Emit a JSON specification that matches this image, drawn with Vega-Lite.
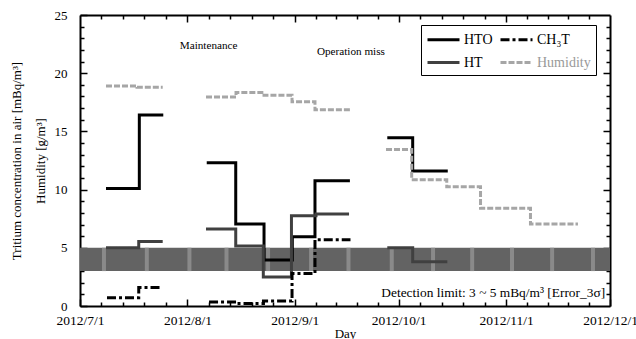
{
  "$schema": "https://vega.github.io/schema/vega-lite/v6.json",
  "width": 530,
  "height": 291,
  "autosize": {"type": "none"},
  "padding": {"left": 80, "top": 15, "right": 26, "bottom": 33},
  "config": {
    "view": {"stroke": null},
    "font": "Liberation Serif",
    "legend": {"labelFont": "Liberation Serif"},
    "axis": {"domainColor": "black", "domainWidth": 2, "tickColor": "black", "tickWidth": 1.5, "grid": false, "labelFont": "Liberation Serif", "labelColor": "black", "titleFont": "Liberation Serif", "titleColor": "black", "titleFontWeight": "normal"}
  },
  "resolve": {"axis": {"x": "independent", "y": "independent"}},
  "layer": [
    {
      "data": {"values": [{"start": "2012-07-01T00:00:00", "end": "2012-12-01T00:00:00", "low": 3, "high": 5}]},
      "mark": {"type": "rect", "fill": "#636363"},
      "encoding": {
        "x": {"field": "start", "type": "temporal",
          "scale": {"domain": [{"year": 2012, "month": 7, "date": 1}, {"year": 2012, "month": 12, "date": 1}]},
          "axis": {"orient": "bottom", "values": [{"year": 2012, "month": 7, "date": 1}, {"year": 2012, "month": 8, "date": 1}, {"year": 2012, "month": 9, "date": 1}, {"year": 2012, "month": 10, "date": 1}, {"year": 2012, "month": 11, "date": 1}, {"year": 2012, "month": 12, "date": 1}],
            "format": "%Y/%-m/%-d", "labelFontSize": 13.5, "tickSize": -7, "labelPadding": 14, "labelFlush": false, "labelOverlap": false, "labelBound": false,
            "title": "Day", "titleFontSize": 13, "titlePadding": 1}},
        "x2": {"field": "end"},
        "y": {"field": "low", "type": "quantitative", "scale": {"domain": [0, 25], "nice": false, "zero": false},
          "axis": {"orient": "left", "values": [0, 5, 10, 15, 20, 25], "tickSize": -7, "labelFontSize": 13, "labelPadding": 20,
            "title": ["Tritium concentration in air [mBq/m³]", "Humidity [g/m³]"], "titleFontSize": 13, "titleLineHeight": 24, "titlePadding": 7}},
        "y2": {"field": "high"}
      }
    },
    {
      "data": {"values": [
        {"date": "2012-07-07T22:00:00", "low": 3, "high": 5},
        {"date": "2012-07-20T07:00:00", "low": 3, "high": 5},
        {"date": "2012-08-01T14:00:00", "low": 3, "high": 5},
        {"date": "2012-08-12T07:00:00", "low": 3, "high": 5},
        {"date": "2012-08-24T07:00:00", "low": 3, "high": 5},
        {"date": "2012-09-05T17:00:00", "low": 3, "high": 5},
        {"date": "2012-09-16T12:00:00", "low": 3, "high": 5},
        {"date": "2012-09-29T00:00:00", "low": 3, "high": 5},
        {"date": "2012-10-10T22:00:00", "low": 3, "high": 5},
        {"date": "2012-10-22T05:00:00", "low": 3, "high": 5},
        {"date": "2012-11-02T17:00:00", "low": 3, "high": 5},
        {"date": "2012-11-14T07:00:00", "low": 3, "high": 5},
        {"date": "2012-11-26T02:00:00", "low": 3, "high": 5}
      ]},
      "mark": {"type": "rule", "strokeWidth": 4, "color": "#8a8a8a"},
      "encoding": {
        "x": {"field": "date", "type": "temporal",
          "axis": {"orient": "bottom", "values": [
            {"year": 2012, "month": 7, "date": 7, "hours": 4, "minutes": 48}, {"year": 2012, "month": 7, "date": 13, "hours": 9, "minutes": 36}, {"year": 2012, "month": 7, "date": 19, "hours": 14, "minutes": 24}, {"year": 2012, "month": 7, "date": 25, "hours": 19, "minutes": 12},
            {"year": 2012, "month": 8, "date": 7, "hours": 4, "minutes": 48}, {"year": 2012, "month": 8, "date": 13, "hours": 9, "minutes": 36}, {"year": 2012, "month": 8, "date": 19, "hours": 14, "minutes": 24}, {"year": 2012, "month": 8, "date": 25, "hours": 19, "minutes": 12},
            {"year": 2012, "month": 9, "date": 7}, {"year": 2012, "month": 9, "date": 13}, {"year": 2012, "month": 9, "date": 19}, {"year": 2012, "month": 9, "date": 25},
            {"year": 2012, "month": 10, "date": 7, "hours": 4, "minutes": 48}, {"year": 2012, "month": 10, "date": 13, "hours": 9, "minutes": 36}, {"year": 2012, "month": 10, "date": 19, "hours": 14, "minutes": 24}, {"year": 2012, "month": 10, "date": 25, "hours": 19, "minutes": 12},
            {"year": 2012, "month": 11, "date": 7}, {"year": 2012, "month": 11, "date": 13}, {"year": 2012, "month": 11, "date": 19}, {"year": 2012, "month": 11, "date": 25}],
            "tickSize": -4, "labels": false, "domain": false, "title": null}},
        "y": {"field": "low", "type": "quantitative",
          "axis": {"orient": "left", "values": [1,2,3,4,6,7,8,9,11,12,13,14,16,17,18,19,21,22,23,24], "tickSize": -4, "labels": false, "domain": false, "title": null}},
        "y2": {"field": "high"}
      }
    },
    {
      "data": {"values": [
        {"series": "HTO", "seg": "HTO1", "date": "2012-07-08T12:00:00", "v": 10.1},
        {"series": "HTO", "seg": "HTO1", "date": "2012-07-18T03:00:00", "v": 16.4},
        {"series": "HTO", "seg": "HTO1", "date": "2012-07-25T01:00:00", "v": 16.4},
        {"series": "HTO", "seg": "HTO2", "date": "2012-08-06T14:00:00", "v": 12.3},
        {"series": "HTO", "seg": "HTO2", "date": "2012-08-14T23:00:00", "v": 7.05},
        {"series": "HTO", "seg": "HTO2", "date": "2012-08-23T03:00:00", "v": 3.95},
        {"series": "HTO", "seg": "HTO2", "date": "2012-08-31T07:00:00", "v": 5.95},
        {"series": "HTO", "seg": "HTO2", "date": "2012-09-06T20:00:00", "v": 10.75},
        {"series": "HTO", "seg": "HTO2", "date": "2012-09-16T22:00:00", "v": 10.75},
        {"series": "HTO", "seg": "HTO3", "date": "2012-09-27T17:00:00", "v": 14.45},
        {"series": "HTO", "seg": "HTO3", "date": "2012-10-05T01:00:00", "v": 11.6},
        {"series": "HTO", "seg": "HTO3", "date": "2012-10-15T04:00:00", "v": 11.6},
        {"series": "HT", "seg": "HT1", "date": "2012-07-08T12:00:00", "v": 5.0},
        {"series": "HT", "seg": "HT1", "date": "2012-07-17T23:00:00", "v": 5.55},
        {"series": "HT", "seg": "HT1", "date": "2012-07-24T21:00:00", "v": 5.55},
        {"series": "HT", "seg": "HT2", "date": "2012-08-06T09:00:00", "v": 6.62},
        {"series": "HT", "seg": "HT2", "date": "2012-08-14T23:00:00", "v": 5.15},
        {"series": "HT", "seg": "HT2", "date": "2012-08-22T22:00:00", "v": 2.5},
        {"series": "HT", "seg": "HT2", "date": "2012-08-31T01:00:00", "v": 7.75},
        {"series": "HT", "seg": "HT2", "date": "2012-09-07T03:00:00", "v": 7.9},
        {"series": "HT", "seg": "HT2", "date": "2012-09-16T16:00:00", "v": 7.9},
        {"series": "HT", "seg": "HT3", "date": "2012-09-27T17:00:00", "v": 5.0},
        {"series": "HT", "seg": "HT3", "date": "2012-10-05T01:00:00", "v": 3.8},
        {"series": "HT", "seg": "HT3", "date": "2012-10-15T01:00:00", "v": 3.8},
        {"series": "CH₃T", "seg": "C1", "date": "2012-07-08T19:00:00", "v": 0.7},
        {"series": "CH₃T", "seg": "C1", "date": "2012-07-17T23:00:00", "v": 1.6},
        {"series": "CH₃T", "seg": "C1", "date": "2012-07-24T14:00:00", "v": 1.6},
        {"series": "CH₃T", "seg": "C2", "date": "2012-08-07T06:00:00", "v": 0.35},
        {"series": "CH₃T", "seg": "C2", "date": "2012-08-15T04:00:00", "v": 0.22},
        {"series": "CH₃T", "seg": "C2", "date": "2012-08-22T23:00:00", "v": 0.43},
        {"series": "CH₃T", "seg": "C2", "date": "2012-08-31T05:00:00", "v": 2.8},
        {"series": "CH₃T", "seg": "C2", "date": "2012-09-06T20:00:00", "v": 5.7},
        {"series": "CH₃T", "seg": "C2", "date": "2012-09-17T02:00:00", "v": 5.7},
        {"series": "Humidity", "seg": "H1", "date": "2012-07-08T12:00:00", "v": 18.9},
        {"series": "Humidity", "seg": "H1", "date": "2012-07-17T11:00:00", "v": 18.8},
        {"series": "Humidity", "seg": "H1", "date": "2012-07-24T21:00:00", "v": 18.8},
        {"series": "Humidity", "seg": "H2", "date": "2012-08-06T09:00:00", "v": 17.95},
        {"series": "Humidity", "seg": "H2", "date": "2012-08-15T01:00:00", "v": 18.35},
        {"series": "Humidity", "seg": "H2", "date": "2012-08-23T03:00:00", "v": 18.1},
        {"series": "Humidity", "seg": "H2", "date": "2012-08-31T05:00:00", "v": 17.55},
        {"series": "Humidity", "seg": "H2", "date": "2012-09-06T20:00:00", "v": 16.85},
        {"series": "Humidity", "seg": "H2", "date": "2012-09-16T22:00:00", "v": 16.85},
        {"series": "Humidity", "seg": "H3", "date": "2012-09-27T08:00:00", "v": 13.45},
        {"series": "Humidity", "seg": "H3", "date": "2012-10-04T18:00:00", "v": 10.85},
        {"series": "Humidity", "seg": "H3", "date": "2012-10-14T21:00:00", "v": 10.25},
        {"series": "Humidity", "seg": "H3", "date": "2012-10-24T15:00:00", "v": 8.4},
        {"series": "Humidity", "seg": "H3", "date": "2012-11-08T01:00:00", "v": 7.05},
        {"series": "Humidity", "seg": "H3", "date": "2012-11-21T18:00:00", "v": 7.05}
      ]},
      "mark": {"type": "line", "interpolate": "step-after", "strokeWidth": 3},
      "encoding": {
        "x": {"field": "date", "type": "temporal",
          "axis": {"orient": "top", "values": [
            {"year": 2012, "month": 7, "date": 7, "hours": 4, "minutes": 48}, {"year": 2012, "month": 7, "date": 13, "hours": 9, "minutes": 36}, {"year": 2012, "month": 7, "date": 19, "hours": 14, "minutes": 24}, {"year": 2012, "month": 7, "date": 25, "hours": 19, "minutes": 12},
            {"year": 2012, "month": 8, "date": 7, "hours": 4, "minutes": 48}, {"year": 2012, "month": 8, "date": 13, "hours": 9, "minutes": 36}, {"year": 2012, "month": 8, "date": 19, "hours": 14, "minutes": 24}, {"year": 2012, "month": 8, "date": 25, "hours": 19, "minutes": 12},
            {"year": 2012, "month": 9, "date": 7}, {"year": 2012, "month": 9, "date": 13}, {"year": 2012, "month": 9, "date": 19}, {"year": 2012, "month": 9, "date": 25},
            {"year": 2012, "month": 10, "date": 7, "hours": 4, "minutes": 48}, {"year": 2012, "month": 10, "date": 13, "hours": 9, "minutes": 36}, {"year": 2012, "month": 10, "date": 19, "hours": 14, "minutes": 24}, {"year": 2012, "month": 10, "date": 25, "hours": 19, "minutes": 12},
            {"year": 2012, "month": 11, "date": 7}, {"year": 2012, "month": 11, "date": 13}, {"year": 2012, "month": 11, "date": 19}, {"year": 2012, "month": 11, "date": 25}],
            "tickSize": -4, "labels": false, "domain": true, "title": null}},
        "y": {"field": "v", "type": "quantitative",
          "axis": {"orient": "right", "values": [1,2,3,4,6,7,8,9,11,12,13,14,16,17,18,19,21,22,23,24], "tickSize": -4, "labels": false, "domain": true, "title": null}},
        "detail": {"field": "seg"},
        "color": {"field": "series", "type": "nominal",
          "scale": {"domain": ["HTO", "CH₃T", "HT", "Humidity"], "range": ["#000000", "#000000", "#404040", "#a6a6a6"]},
          "legend": {"title": null, "orient": "none", "direction": "horizontal", "legendX": 341, "legendY": 10, "columns": 2, "strokeColor": "black", "padding": 5, "symbolType": "M-2,0H2", "symbolSize": 256, "symbolOffset": 8, "symbolStrokeWidth": 3, "labelFontSize": 14, "labelFont": "Liberation Serif", "labelOffset": 11, "columnPadding": 1, "rowPadding": 6,
            "encode": {"labels": {"update": {"fill": {"signal": "datum.label === 'Humidity' ? '#999999' : 'black'"}}}}}},
        "strokeDash": {"field": "series", "type": "nominal",
          "scale": {"domain": ["HTO", "CH₃T", "HT", "Humidity"], "range": [[1, 0], [9, 3, 3, 3], [1, 0], [6, 2]]},
          "legend": {"title": null, "orient": "none", "direction": "horizontal", "legendX": 341, "legendY": 10, "columns": 2, "strokeColor": "black", "padding": 5, "symbolType": "M-2,0H2", "symbolSize": 256, "symbolOffset": 8, "symbolStrokeWidth": 3, "labelFontSize": 14, "labelFont": "Liberation Serif", "labelOffset": 11, "columnPadding": 1, "rowPadding": 6,
            "encode": {"labels": {"update": {"fill": {"signal": "datum.label === 'Humidity' ? '#999999' : 'black'"}}}}}}
      }
    },
    {
      "data": {"values": [
        {"date": "2012-08-07T03:00:00", "v": 22.3, "label": "Maintenance"},
        {"date": "2012-09-17T05:00:00", "v": 21.8, "label": "Operation miss"}
      ]},
      "mark": {"type": "text", "fontSize": 11.2, "align": "center", "baseline": "middle", "font": "Liberation Serif", "color": "black"},
      "encoding": {
        "x": {"field": "date", "type": "temporal",
          "axis": {"orient": "top", "values": [{"year": 2012, "month": 8, "date": 1}, {"year": 2012, "month": 9, "date": 1}, {"year": 2012, "month": 10, "date": 1}, {"year": 2012, "month": 11, "date": 1}],
            "tickSize": -7, "labels": false, "domain": false, "title": null}},
        "y": {"field": "v", "type": "quantitative",
          "axis": {"orient": "right", "values": [5, 10, 15, 20], "tickSize": -7, "labels": false, "domain": false, "title": null}},
        "text": {"field": "label"}
      }
    },
    {
      "data": {"values": [
        {"date": "2012-11-29T14:00:00", "v": 1.1, "label": "Detection limit: 3 ~ 5 mBq/m³ [Error_3σ]"}
      ]},
      "mark": {"type": "text", "fontSize": 13.4, "align": "right", "baseline": "middle", "font": "Liberation Serif", "color": "black"},
      "encoding": {
        "x": {"field": "date", "type": "temporal", "axis": null},
        "y": {"field": "v", "type": "quantitative", "axis": null},
        "text": {"field": "label"}
      }
    }
  ]
}
